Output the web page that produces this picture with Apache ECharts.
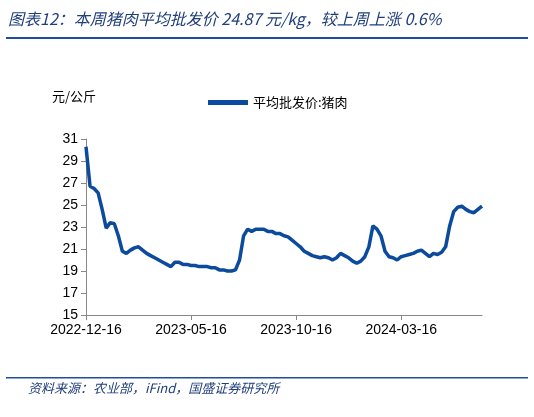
<!DOCTYPE html>
<html><head><meta charset="utf-8">
<script src="https://cdn.jsdelivr.net/npm/echarts@6/dist/echarts.min.js"></script>
<style>body{margin:0}#c{width:534px;height:417px}</style>
</head><body><div id="c"></div>
<script>
// 猪肉平均批发价（元/公斤）
var prices = [30.3,26.7,26.5,26.1,24.6,22.9,23.4,23.3,22.2,20.8,
  20.6,20.9,21.1,21.2,20.9,20.6,20.4,20.2,20.0,19.8,
  19.6,19.4,19.8,19.8,19.6,19.6,19.5,19.5,19.4,19.4,
  19.4,19.3,19.3,19.1,19.1,19.0,19.0,19.1,20.0,22.2,
  22.8,22.6,22.8,22.8,22.8,22.6,22.6,22.4,22.4,22.2,
  22.1,21.8,21.5,21.2,20.8,20.6,20.4,20.3,20.2,20.3,
  20.2,20.0,20.2,20.6,20.4,20.2,19.9,19.7,19.9,20.3,
  21.2,23.1,22.8,22.2,20.8,20.3,20.2,20.0,20.3,20.4,
  20.5,20.6,20.8,20.9,20.6,20.3,20.6,20.5,20.7,21.2,
  23.1,24.4,24.8,24.9,24.6,24.4,24.3,24.6,24.9];
var tickLabels = ['2022-12-16','2023-05-16','2023-10-16','2024-03-16'];
var labelStep = 26;
var yTicks = [15,17,19,21,23,25,27,29,31];

var cats = prices.map(function(v, i){ return i; });
var blue = '#0B4A9C';
var myChart = echarts.init(document.getElementById('c'));
myChart.setOption({
  backgroundColor: '#fff',
  animation: false,
  graphic: [
    {type:'text', left: 8, top: 11, style:{text:'图表12：本周猪肉平均批发价 24.87 元/kg，较上周上涨 0.6%', fill:'#1F3E7C', font:'italic 16px "Noto Sans CJK SC"'}},
    {type:'rect', shape:{x:6,y:37,width:522,height:2}, style:{fill:'#1F4E9A'}},
    {type:'text', left: 52, top: 90, style:{text:'元/公斤', fill:'#000', font:'13px "Noto Sans CJK SC"'}},
    {type:'rect', shape:{x:6,y:377,width:522,height:1.5}, style:{fill:'#1F4E9A'}},
    {type:'text', left: 28, top: 382, style:{text:'资料来源：农业部，iFind，国盛证券研究所', fill:'#1F3E7C', font:'italic 13px "Noto Sans CJK SC"'}}
  ],
  grid: {left: 86, right: 52, top: 139, bottom: 102},
  legend: {
    top: 91, left: 203, itemWidth: 40, itemHeight: 5, icon: 'rect',
    textStyle: {color: '#000', fontSize: 13, fontFamily: 'Noto Sans CJK SC'},
    data: ['平均批发价:猪肉']
  },
  xAxis: {
    type: 'category', data: cats, boundaryGap: false,
    axisLine: {lineStyle: {color: '#888'}},
    axisTick: {interval: function(i){ return i % labelStep === 0; }, lineStyle: {color: '#888'}, length: 5},
    axisLabel: {
      interval: function(i){ return i % labelStep === 0 && i / labelStep < tickLabels.length; },
      formatter: function(v, i){ return tickLabels[i / labelStep] || ''; },
      color: '#000', fontSize: 14, fontFamily: 'Liberation Sans', margin: 8
    }
  },
  yAxis: {
    type: 'value', min: yTicks[0], max: yTicks[yTicks.length-1], interval: 2,
    splitLine: {show: false},
    axisLine: {show: true, lineStyle: {color: '#888'}},
    axisTick: {show: true, lineStyle: {color: '#888'}},
    axisLabel: {color: '#000', fontSize: 14, fontFamily: 'Liberation Sans', margin: 8}
  },
  series: [{
    name: '平均批发价:猪肉', type: 'line', data: prices,
    showSymbol: false, lineStyle: {color: blue, width: 3.5}, itemStyle: {color: blue}
  }]
});
</script></body></html>
